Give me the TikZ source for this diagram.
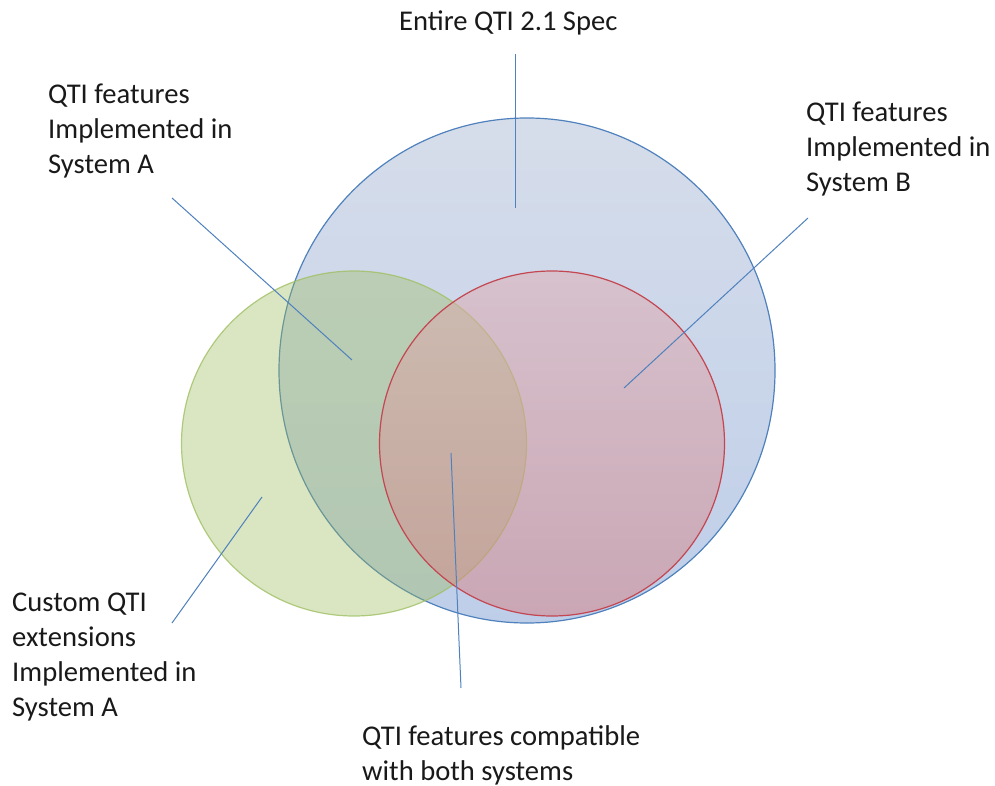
\documentclass[tikz,border=0pt]{standalone}
\usepackage{fontspec}
\setmainfont{Carlito}
\definecolor{bluestroke}{RGB}{79,129,189}
\definecolor{bluetop}{RGB}{214,221,234}
\definecolor{bluebot}{RGB}{190,206,233}
\definecolor{greenfill}{RGB}{155,187,89}
\definecolor{greenstroke}{RGB}{160,192,100}
\definecolor{redtop}{RGB}{222,172,176}
\definecolor{redbot}{RGB}{215,128,130}
\definecolor{redstroke}{RGB}{195,70,80}
\definecolor{txt}{RGB}{25,25,25}
\tikzset{
  lbl/.style={anchor=base west, align=left, inner sep=0pt, text=txt,
    font=\fontsize{28.6}{35}\selectfont},
  conn/.style={draw=bluestroke, line width=1pt},
}
\begin{document}
\begin{tikzpicture}[x=1pt,y=-1pt]
\useasboundingbox (0,0) rectangle (995,786);
% circles
\shade[top color=bluetop, bottom color=bluebot] (527,370.5) ellipse [x radius=248, y radius=252.5];
\draw[bluestroke, line width=1.2pt] (527,370.5) ellipse [x radius=248, y radius=252.5];
\fill[greenfill, fill opacity=0.37] (354,443.5) circle [radius=172.5];
\draw[greenstroke, line width=1.2pt, draw opacity=0.8] (354,443.5) circle [radius=172.5];
\shade[top color=redtop, bottom color=redbot, opacity=0.5] (552,443.5) circle [radius=172.5];
\draw[redstroke, line width=1.2pt] (552,443.5) circle [radius=172.5];
% labels (base anchor = baseline of the last line)
\node[lbl] (spec) at (399,31) {Entire QTI 2.1 Spec};
\node[lbl] (sysa) at (48,174) {QTI features\\Implemented in\\System A};
\node[lbl] (sysb) at (806,192) {QTI features\\Implemented in\\System B};
\node[lbl] (cust) at (12,716) {Custom QTI\\extensions\\Implemented in\\System A};
\node[lbl] (both) at (362,780) {QTI features compatible\\with both systems};
% connector endpoints
\coordinate (specA) at (515,54);
\coordinate (specB) at (515,208);
\coordinate (sysaA) at (172,198);
\coordinate (sysaB) at (352,360);
\coordinate (sysbA) at (808,218);
\coordinate (sysbB) at (624,388);
\coordinate (bothA) at (451,453);
\coordinate (bothB) at (461,688);
\coordinate (custA) at (262,497);
\coordinate (custB) at (172,623);
\draw[conn] (specA) -- (specB);
\draw[conn] (sysaA) -- (sysaB);
\draw[conn] (sysbA) -- (sysbB);
\draw[conn] (bothA) -- (bothB);
\draw[conn] (custA) -- (custB);
\end{tikzpicture}
\end{document}
